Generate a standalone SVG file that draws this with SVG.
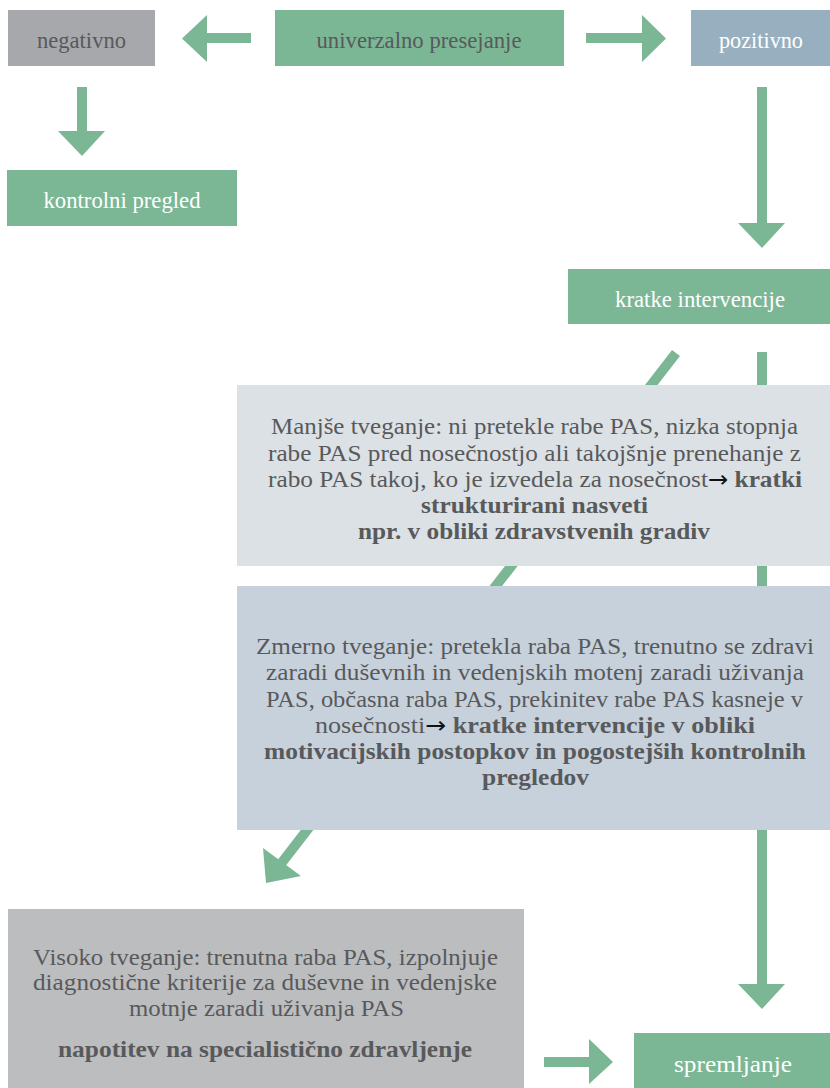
<svg xmlns="http://www.w3.org/2000/svg" width="830" height="1088" viewBox="0 0 830 1088">
<style>
.g{fill:#7bb795}
.t{font-family:"Liberation Serif","Times New Roman",serif;font-size:24px;fill:#58595b;text-anchor:middle}
.l{font-size:23.5px}
.w{fill:#ffffff}
.b{font-weight:bold}
.k{fill:#111111;font-family:"DejaVu Sans","Liberation Sans",sans-serif;font-size:23px;font-weight:normal}
</style>
<rect width="830" height="1088" fill="#ffffff"/>
<g id="connectors">
<polygon class="g" points="251,33 207,33 207,15 182,38.5 207,62 207,43 251,43"/>
<polygon class="g" points="586,33 642,33 642,15 666,38.5 642,62 642,43 586,43"/>
<polygon class="g" points="77,87 87,87 87,131 105,131 82,156 58,131 77,131"/>
<polygon class="g" points="757,87 767,87 767,223 785,223 762,248 738,223 757,223"/>
<polygon class="g" points="757,352 767,352 767,984 785,984 762,1009 738,984 757,984"/>
<line x1="676" y1="353" x2="280" y2="865" stroke="#7bb795" stroke-width="10"/>
<polygon class="g" points="263,848 301,876 266,883"/>
<polygon class="g" points="544,1057 589,1057 589,1039 613,1062 589,1084 589,1067 544,1067"/>
</g>
<g id="negativno">
<rect x="8" y="10" width="147" height="56" fill="#a7a8ac"/>
<text class="t l" x="81.5" y="48" textLength="89" lengthAdjust="spacingAndGlyphs">negativno</text>
</g>
<g id="univerzalno">
<rect x="275" y="10" width="289" height="56" fill="#7bb795"/>
<text class="t l" x="419" y="48" textLength="205" lengthAdjust="spacingAndGlyphs">univerzalno presejanje</text>
</g>
<g id="pozitivno">
<rect x="691" y="10" width="139" height="56" fill="#98afbf"/>
<text class="t l w" x="761" y="48" textLength="84" lengthAdjust="spacingAndGlyphs">pozitivno</text>
</g>
<g id="kontrolni">
<rect x="7" y="170" width="230" height="56" fill="#7bb795"/>
<text class="t l w" x="122" y="208" textLength="157" lengthAdjust="spacingAndGlyphs">kontrolni pregled</text>
</g>
<g id="kratke">
<rect x="568" y="269" width="262" height="55" fill="#7bb795"/>
<text class="t l w" x="700" y="307" textLength="170" lengthAdjust="spacingAndGlyphs">kratke intervencije</text>
</g>
<g id="manjse">
<rect x="237" y="385" width="593" height="181" fill="#dce1e5"/>
<text class="t" x="534.5" y="434" textLength="527" lengthAdjust="spacingAndGlyphs">Manjše tveganje: ni pretekle rabe PAS, nizka stopnja</text>
<text class="t" x="534.5" y="460.5" textLength="533" lengthAdjust="spacingAndGlyphs">rabe PAS pred nosečnostjo ali takojšnje prenehanje z</text>
<text class="t" x="535" y="487" textLength="534" lengthAdjust="spacingAndGlyphs">rabo PAS takoj, ko je izvedela za nosečnost<tspan class="k">→</tspan><tspan class="b"> kratki</tspan></text>
<text class="t b" x="534.5" y="513" textLength="227" lengthAdjust="spacingAndGlyphs">strukturirani nasveti</text>
<text class="t b" x="534" y="539" textLength="352" lengthAdjust="spacingAndGlyphs">npr. v obliki zdravstvenih gradiv</text>
</g>
<g id="zmerno">
<rect x="237" y="586" width="593" height="244" fill="#c6d1db"/>
<text class="t" x="535" y="654" textLength="558" lengthAdjust="spacingAndGlyphs">Zmerno tveganje: pretekla raba PAS, trenutno se zdravi</text>
<text class="t" x="535" y="680" textLength="538" lengthAdjust="spacingAndGlyphs">zaradi duševnih in vedenjskih motenj zaradi uživanja</text>
<text class="t" x="534.5" y="707" textLength="537" lengthAdjust="spacingAndGlyphs">PAS, občasna raba PAS, prekinitev rabe PAS kasneje v</text>
<text class="t" x="535" y="733" textLength="440" lengthAdjust="spacingAndGlyphs">nosečnosti<tspan class="k">→</tspan><tspan class="b"> kratke intervencije v obliki</tspan></text>
<text class="t b" x="535" y="759" textLength="542" lengthAdjust="spacingAndGlyphs">motivacijskih postopkov in pogostejših kontrolnih</text>
<text class="t b" x="535.5" y="785" textLength="107" lengthAdjust="spacingAndGlyphs">pregledov</text>
</g>
<g id="visoko">
<rect x="8" y="909" width="516" height="179" fill="#bcbdbf"/>
<text class="t" x="265.5" y="965" textLength="465" lengthAdjust="spacingAndGlyphs">Visoko tveganje: trenutna raba PAS, izpolnjuje</text>
<text class="t" x="265" y="990" textLength="464" lengthAdjust="spacingAndGlyphs">diagnostične kriterije za duševne in vedenjske</text>
<text class="t" x="266.5" y="1016" textLength="275" lengthAdjust="spacingAndGlyphs">motnje zaradi uživanja PAS</text>
<text class="t b" x="265" y="1057" textLength="414" lengthAdjust="spacingAndGlyphs">napotitev na specialistično zdravljenje</text>
</g>
<g id="spremljanje">
<rect x="634" y="1033" width="196" height="55" fill="#7bb795"/>
<text class="t l w" x="733" y="1072" textLength="118" lengthAdjust="spacingAndGlyphs">spremljanje</text>
</g>
</svg>
